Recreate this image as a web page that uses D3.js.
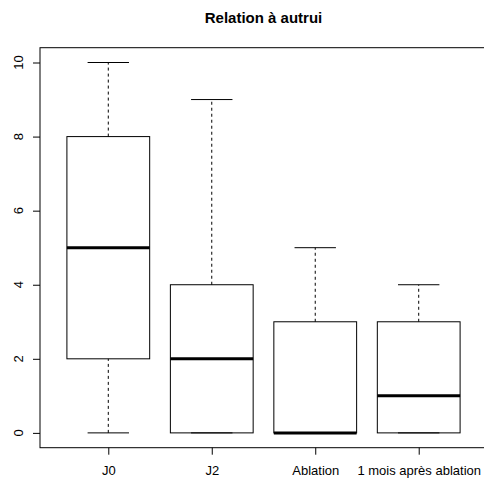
<!DOCTYPE html>
<html><head><meta charset="utf-8">
<script src="https://cdn.jsdelivr.net/npm/d3@7"></script>
<style>body{margin:0;background:#fff}svg{display:block;font-family:"Liberation Sans",Arial,Helvetica,sans-serif}</style>
</head><body><svg id="c" width="484" height="485"></svg>
<script>
const title = "Relation à autrui";
const categories = ["J0", "J2", "Ablation", "1 mois après ablation"];
const mins    = [0, 0, 0, 0];
const q1s     = [2, 0, 0, 0];
const medians = [5, 2, 0, 1];
const q3s     = [8, 4, 3, 3];
const maxs    = [10, 9, 5, 4];
const yTicks  = [0, 2, 4, 6, 8, 10];

const svg = d3.select("#c");
const L = 40, R = 487, T = 47.7, B = 447.7;
const x = d3.scaleLinear().domain([0.34, 4.66]).range([L, R]);
const y = d3.scaleLinear().domain([-0.4, 10.4]).range([B, T]);
const k = x(2) - x(1);
const boxW = 0.8 * k, capW = 0.4 * k;

const data = categories.map((c, i) => ({c, i: i + 1, min: mins[i], q1: q1s[i], med: medians[i], q3: q3s[i], max: maxs[i]}));

const g = svg.append("g");
data.forEach(d => {
  const cx = x(d.i);
  if (d.max > d.q3) g.append("line").attr("x1", cx).attr("x2", cx).attr("y1", y(d.q3)).attr("y2", y(d.max))
    .attr("stroke", "#000").attr("stroke-dasharray", "3,3");
  if (d.q1 > d.min) g.append("line").attr("x1", cx).attr("x2", cx).attr("y1", y(d.min)).attr("y2", y(d.q1))
    .attr("stroke", "#000").attr("stroke-dasharray", "3,3");
  [d.min, d.max].forEach(v => g.append("line").attr("x1", cx - capW / 2).attr("x2", cx + capW / 2)
    .attr("y1", y(v)).attr("y2", y(v)).attr("stroke", "#000"));
  g.append("rect").attr("x", cx - boxW / 2).attr("width", boxW).attr("y", y(d.q3)).attr("height", y(d.q1) - y(d.q3))
    .attr("fill", "none").attr("stroke", "#000");
  g.append("line").attr("x1", cx - boxW / 2).attr("x2", cx + boxW / 2).attr("y1", y(d.med)).attr("y2", y(d.med))
    .attr("stroke", "#000").attr("stroke-width", 3);
});

svg.append("rect").attr("x", L).attr("y", T).attr("width", R - L).attr("height", B - T)
  .attr("fill", "none").attr("stroke", "#000");

// y axis
const ya = svg.append("g").attr("transform", `translate(${L},0)`)
  .call(d3.axisLeft(y).tickValues(yTicks).tickSize(7).tickFormat(""));
ya.select(".domain").remove();
ya.selectAll("line").attr("stroke", "#000");
ya.selectAll("text").remove();
svg.append("g").selectAll("text").data(yTicks).join("text")
  .attr("transform", d => `translate(22.5,${y(d)}) rotate(-90)`)
  .attr("text-anchor", "middle").attr("font-size", 13).attr("fill", "#000")
  .text(d => d3.format("d")(d));

// x axis
const xa = svg.append("g").attr("transform", `translate(0,${B})`)
  .call(d3.axisBottom(x).tickValues(data.map(d => d.i)).tickSize(7).tickFormat((d) => categories[d - 1]));
xa.select(".domain").remove();
xa.selectAll("line").attr("stroke", "#000");
xa.selectAll("text").attr("font-size", 13).attr("font-family", null).attr("fill", "#000").attr("y", 27.5).attr("dy", null);

svg.append("text").attr("x", (L + R) / 2).attr("y", 23).attr("text-anchor", "middle")
  .attr("font-weight", "bold").attr("font-size", 15).text(title);
</script></body></html>
